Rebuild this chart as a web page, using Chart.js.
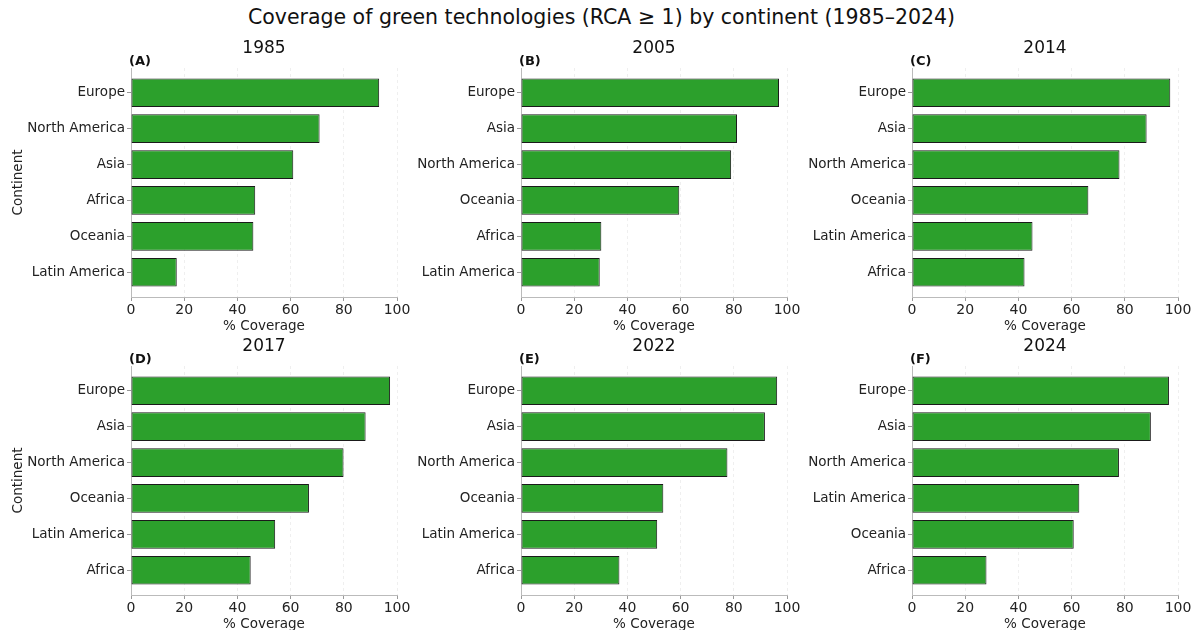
<!DOCTYPE html>
<html>
<head>
<meta charset="utf-8">
<script src="https://cdn.jsdelivr.net/npm/chart.js@4.4.1/dist/chart.umd.min.js"></script>
<style>
  body { margin: 0; background: #fff; width: 1196px; height: 630px; position: relative; overflow: hidden; font-family: "DejaVu Sans", sans-serif; }
  #title { position: absolute; left: 0; width: 1203px; top: 5px; text-align: center; font-size: 20.5px; color: #111; }
  canvas { position: absolute; }
</style>
</head>
<body>
<div id="title">Coverage of green technologies (RCA ≥ 1) by continent (1985–2024)</div>

<script>
const years = ["1985", "2005", "2014", "2017", "2022", "2024"];
const letters = ["(A)", "(B)", "(C)", "(D)", "(E)", "(F)"];

// continents in each panel, top to bottom
const cat1985 = ["Europe", "North America", "Asia", "Africa", "Oceania", "Latin America"];
const cat2005 = ["Europe", "Asia", "North America", "Oceania", "Africa", "Latin America"];
const cat2014 = ["Europe", "Asia", "North America", "Oceania", "Latin America", "Africa"];
const cat2017 = ["Europe", "Asia", "North America", "Oceania", "Latin America", "Africa"];
const cat2022 = ["Europe", "Asia", "North America", "Oceania", "Latin America", "Africa"];
const cat2024 = ["Europe", "Asia", "North America", "Latin America", "Oceania", "Africa"];

// % coverage
const val1985 = [93.3, 70.9, 61.0, 46.7, 46.0, 17.2];
const val2005 = [97.0, 81.2, 79.0, 59.5, 30.2, 29.6];
const val2014 = [97.1, 88.2, 78.0, 66.3, 45.3, 42.3];
const val2017 = [97.4, 88.2, 79.9, 66.9, 54.2, 45.0];
const val2022 = [96.3, 91.7, 77.6, 53.5, 51.2, 37.0];
const val2024 = [96.6, 89.8, 77.8, 62.9, 60.8, 28.0];

const xTicks = [0, 20, 40, 60, 80, 100];

const panels = [
  [cat1985, val1985], [cat2005, val2005], [cat2014, val2014],
  [cat2017, val2017], [cat2022, val2022], [cat2024, val2024]
];

const FONT = "DejaVu Sans";
const plotLeft = [131, 521, 912];
const plotTop = [68, 366];
const plotW = 266, plotH = 229;
const axisW = 131, padTop = 50, padRight = 24, axisH = 45;

const panelText = {
  id: "panelText",
  afterDraw(chart, args, opts) {
    const { ctx, chartArea } = chart;
    ctx.save();
    ctx.fillStyle = "#111";
    ctx.font = "17px '" + FONT + "'";
    ctx.textAlign = "center";
    ctx.textBaseline = "middle";
    ctx.fillText(opts.year, (chartArea.left + chartArea.right) / 2, chartArea.top - 19);
    ctx.font = "bold 13px '" + FONT + "'";
    ctx.textAlign = "left";
    ctx.textBaseline = "alphabetic";
    ctx.fillText(opts.letter, chartArea.left - 2, chartArea.top - 3);
    ctx.restore();
  }
};

panels.forEach(([cats, vals], i) => {
  const col = i % 3, row = Math.floor(i / 3);
  const cv = document.createElement("canvas");
  const w = axisW + plotW + padRight, h = padTop + plotH + axisH;
  cv.width = w; cv.height = h;
  cv.style.left = (plotLeft[col] - axisW) + "px";
  cv.style.top = (plotTop[row] - padTop) + "px";
  cv.style.width = w + "px"; cv.style.height = h + "px";
  document.body.appendChild(cv);

  new Chart(cv, {
    type: "bar",
    data: {
      datasets: [{
        data: vals.map((v, k) => ({ x: v, y: k })),
        backgroundColor: "#2ca02c",
        borderColor: "#1a1a1a",
        borderWidth: 1,
        borderSkipped: false,
        categoryPercentage: 1,
        barPercentage: 0.8
      }]
    },
    options: {
      indexAxis: "y",
      responsive: false,
      animation: false,
      layout: { padding: { top: padTop, right: padRight, left: 0, bottom: 0 } },
      plugins: {
        legend: { display: false },
        tooltip: { enabled: false },
        panelText: { year: years[i], letter: letters[i] }
      },
      scales: {
        x: {
          type: "linear",
          min: 0, max: 100,
          afterBuildTicks: s => { s.ticks = xTicks.map(v => ({ value: v })); },
          afterFit: s => { s.height = axisH; },
          ticks: { color: "#222", font: { family: FONT, size: 14 }, padding: 1, maxRotation: 0 },
          grid: { color: "#efefef", lineWidth: 1, tickLength: 4, tickColor: "#999", drawTicks: true },
          border: { color: "#bbb", width: 1, dash: [3, 3] },
          title: { display: true, text: "% Coverage", color: "#222", font: { family: FONT, size: 13.5 }, padding: { top: 0, bottom: 7 } }
        },
        y: {
          type: "linear",
          reverse: true,
          offset: false,
          min: -0.69, max: 5.69,
          afterBuildTicks: s => { s.ticks = cats.map((c, k) => ({ value: k })); },
          afterFit: s => { s.width = axisW; },
          ticks: {
            autoSkip: false,
            color: "#222",
            font: { family: FONT, size: 13.5 },
            padding: 2,
            callback: v => cats[v]
          },
          grid: { offset: false, drawOnChartArea: false, tickLength: 4, tickColor: "#999" },
          border: { color: "#bbb", width: 1 },
          title: { display: col === 0, text: "Continent", color: "#222", font: { family: FONT, size: 13.5 }, padding: { top: 10, bottom: 0 } }
        }
      }
    },
    plugins: [panelText]
  });
});
</script>
</body>
</html>
